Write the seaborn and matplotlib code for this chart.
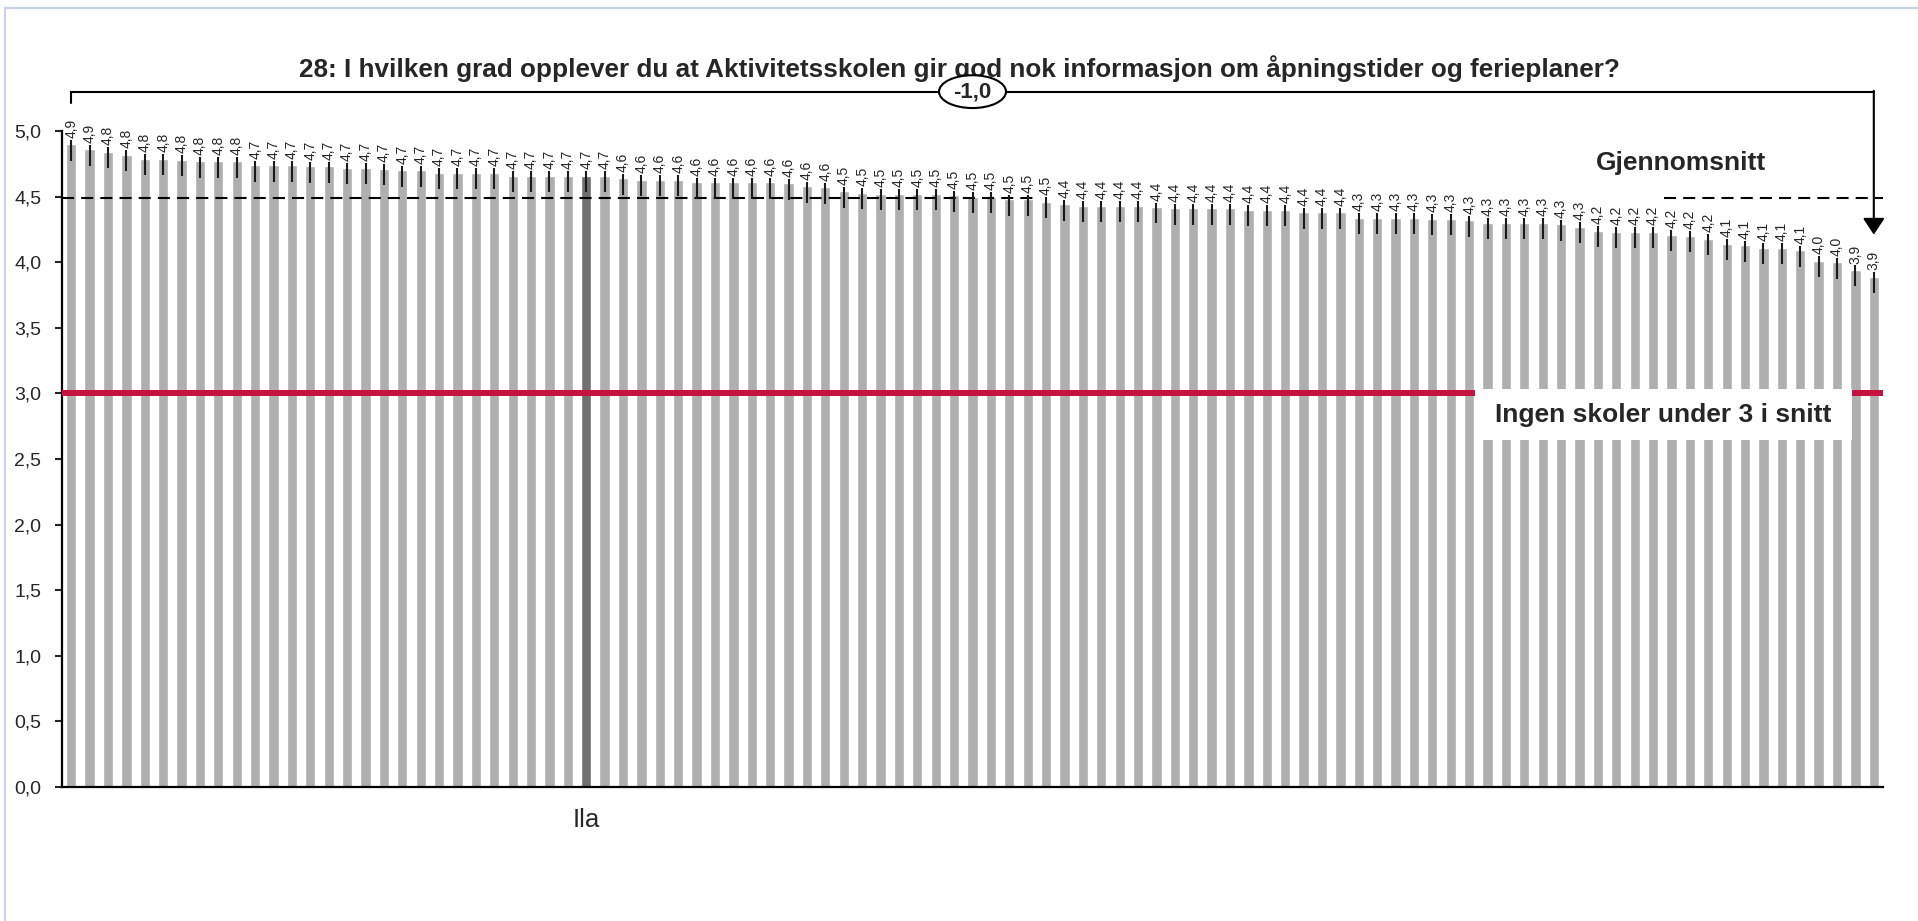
import numpy as np
import pandas as pd
import matplotlib
matplotlib.use("Agg")
import matplotlib.pyplot as plt
from matplotlib.patches import Ellipse, Rectangle
import seaborn as sns

# Gjennomsnitt per skole, sortert synkende (99 skoler)
snitt = [4.90, 4.86, 4.84, 4.82, 4.79, 4.79, 4.78, 4.77, 4.77, 4.77,
         4.74, 4.74, 4.74, 4.73, 4.73, 4.72, 4.72, 4.71, 4.70, 4.70,
         4.68, 4.68, 4.68, 4.68, 4.66, 4.66, 4.66, 4.66, 4.66, 4.66,
         4.64, 4.63, 4.63, 4.63, 4.61, 4.61, 4.61, 4.61, 4.61, 4.60,
         4.58, 4.57, 4.54, 4.53, 4.52, 4.52, 4.52, 4.52, 4.51, 4.50,
         4.50, 4.48, 4.48, 4.46, 4.44, 4.43, 4.43, 4.43, 4.43, 4.42,
         4.41, 4.41, 4.41, 4.41, 4.40, 4.40, 4.40, 4.38, 4.38, 4.38,
         4.34, 4.34, 4.34, 4.34, 4.33, 4.33, 4.32, 4.30, 4.30, 4.30,
         4.30, 4.29, 4.27, 4.24, 4.23, 4.23, 4.23, 4.21, 4.20, 4.18,
         4.14, 4.13, 4.11, 4.11, 4.09, 4.01, 4.00, 3.94, 3.89]
# feilfelt (nedre / ovre)
feil_ned = [0.125] * len(snitt)
feil_opp = [0.035] * len(snitt)

markert_skole = "Ila"
markert_nr = 28
totalsnitt = 4.49
grense = 3.0

tittel = "28: I hvilken grad opplever du at Aktivitetsskolen gir god nok informasjon om åpningstider og ferieplaner?"
yticks = [0.0, 0.5, 1.0, 1.5, 2.0, 2.5, 3.0, 3.5, 4.0, 4.5, 5.0]

n = len(snitt)
df = pd.DataFrame({"nr": [str(i) for i in range(n)], "snitt": snitt})
farger = ["#707070" if i == markert_nr else "#AFAFAF" for i in range(n)]
etiketter = [markert_skole if i == markert_nr else "" for i in range(n)]

sns.set_style("white")
plt.rcParams["font.family"] = ["Liberation Sans", "DejaVu Sans"]

fig = plt.figure(figsize=(19.18, 9.21), dpi=100)
ax = fig.add_axes([62 / 1918, 1 - 787 / 921, (1883 - 62) / 1918, (787 - 131) / 921])

sns.barplot(data=df, x="nr", y="snitt", hue="nr", palette=farger, legend=False,
            width=0.56, errorbar=None, ax=ax, zorder=2)
ax.errorbar(range(n), snitt, yerr=[feil_ned, feil_opp], fmt="none",
            ecolor="#1a1a1a", elinewidth=1.5, capsize=0, zorder=4)

for i, v in enumerate(snitt):
    ax.text(i, v + feil_opp[i] + 0.015, f"{v:.1f}".replace(".", ","), rotation=90,
            ha="center", va="bottom", fontsize=10, zorder=5)

ax.set_xlim(-0.5, n - 0.5)
ax.set_ylim(0, 5)
ax.set_yticks(yticks)
ax.set_yticklabels([f"{t:.1f}".replace(".", ",") for t in yticks], fontsize=14)
ax.set_xticks(range(n))
ax.set_xticklabels(etiketter, fontsize=18.5)
ax.tick_params(axis="x", length=0, pad=15)
ax.tick_params(axis="y", length=5, width=1.5, direction="out", left=True, pad=10)
ax.set_xlabel("")
ax.set_ylabel("")
for s in ["top", "right"]:
    ax.spines[s].set_visible(False)
for s in ["left", "bottom"]:
    ax.spines[s].set_color("black")
    ax.spines[s].set_linewidth(1.6)

# gjennomsnittslinje (skjult bak en hvit boks i midten)
ax.hlines(totalsnitt, -0.5, 52.4, colors="black", linestyles=(0, (5.8, 3.4)), lw=1.5, zorder=3)
ax.hlines(totalsnitt, 86.6, n - 0.5, colors="black", linestyles=(0, (5.8, 3.4)), lw=1.5, zorder=3)
ax.text(87.5, totalsnitt + 0.21, "Gjennomsnitt", ha="center", va="baseline",
        fontsize=19, fontweight="bold", zorder=6)

# grenselinje ved 3
ax.axhline(grense, color="#C5123E", lw=4.3, zorder=3)
ax.add_patch(Rectangle((76.3, grense - 0.355), 20.5, 0.385, facecolor="white",
                       edgecolor="none", zorder=6))
ax.text(86.55, grense - 0.165, "Ingen skoler under 3 i snitt", ha="center", va="center",
        fontsize=19, fontweight="bold", zorder=7)

# klamme fra hoyeste til laveste skole
topp = snitt[0] + 0.40
ax.plot([0, 0, n - 1], [snitt[0] + 0.31, topp, topp], color="black", lw=1.5,
        clip_on=False, zorder=6, solid_joinstyle="miter")
ax.annotate("", xy=(n - 1, snitt[-1] + 0.32), xytext=(n - 1, topp + 0.006),
            arrowprops=dict(arrowstyle="-|>,head_length=0.5,head_width=0.33",
                            mutation_scale=20, color="black", lw=1.5,
                            shrinkA=0, shrinkB=0),
            annotation_clip=False, zorder=6)
diff = snitt[-1] - snitt[0]
ax.add_patch(Ellipse(((n - 1) / 2, topp), 3.64, 0.25, facecolor="white",
                     edgecolor="black", lw=1.5, clip_on=False, zorder=7))
ax.text((n - 1) / 2, topp, f"{diff:.1f}".replace(".", ","), ha="center", va="center",
        fontsize=16, fontweight="bold", zorder=8, clip_on=False)

# tittel under ovalen
fig.text(0.5, 1 - 69 / 921, tittel, ha="center", va="center", fontsize=18.8,
         fontweight="bold", zorder=-1)

# ramme rundt diagramomraadet
fig.patches.append(Rectangle((5 / 1918, -0.05), 1.2, 1 - 8 / 921 + 0.05, transform=fig.transFigure,
                             facecolor="none", edgecolor="#C9D3EA", lw=1.6))

fig.savefig("out.png", dpi=100, facecolor="white")
